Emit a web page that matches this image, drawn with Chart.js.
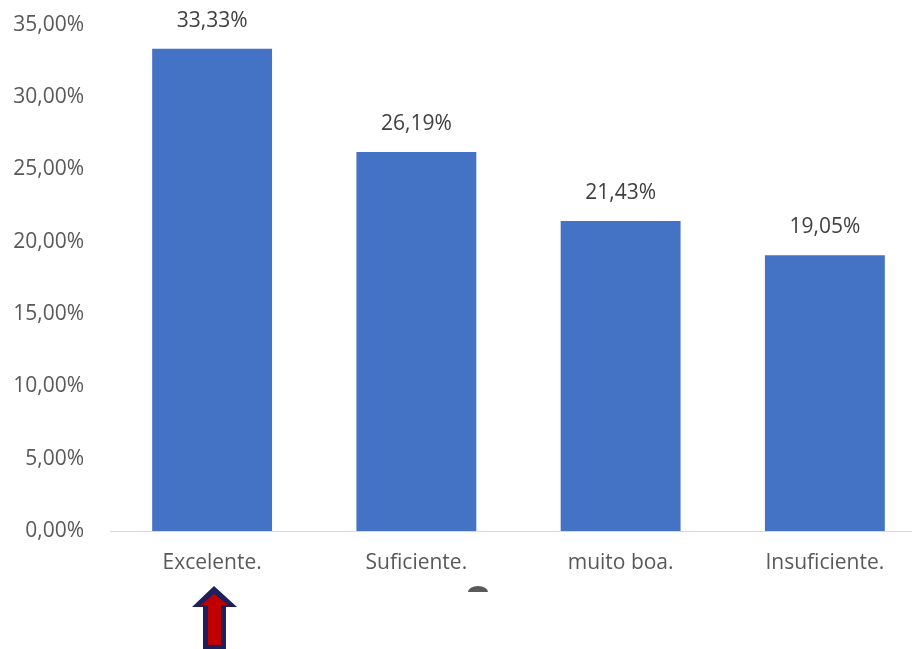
<!DOCTYPE html>
<html>
<head>
<meta charset="utf-8">
<script src="https://cdn.jsdelivr.net/npm/chart.js@4/dist/chart.umd.min.js"></script>
<style>
  html, body { margin: 0; padding: 0; background: #fff; overflow: hidden; width: 912px; height: 649px; }
  #wrap { position: absolute; left: 0; top: -14px; width: 930px; height: 595px; }
  #marks { position: absolute; left: 0; top: 0; }
</style>
</head>
<body>
<div id="wrap"><canvas id="chart"></canvas></div>
<svg id="marks" width="912" height="649">
  <ellipse cx="478" cy="592" rx="10" ry="6" fill="#595959"/>
  <rect x="440" y="592" width="80" height="20" fill="#fff"/>
  <polygon points="214,586 192,607 203,607 203,649 226,649 226,607 237,607" fill="#1f1f5c"/>
  <polygon points="214,594 201,605 208,605 208,645 221,645 221,605 228,605" fill="#c00000"/>
</svg>
<script>
const categories = ["Excelente.", "Suficiente.", "muito boa.", "Insuficiente."];
const percentages = [33.33, 26.19, 21.43, 19.05];

const fmt = v => Number(v).toFixed(2).replace('.', ',') + '%';
const fontFamily = "'Open Sans', sans-serif";

const valueLabels = {
  id: 'valueLabels',
  afterDatasetsDraw(chart) {
    const ctx = chart.ctx;
    ctx.save();
    ctx.font = '21px ' + fontFamily;
    ctx.fillStyle = '#404040';
    ctx.textAlign = 'center';
    ctx.textBaseline = 'middle';
    chart.getDatasetMeta(0).data.forEach((bar, i) => {
      ctx.fillText(fmt(percentages[i]), bar.x, bar.y - 28);
    });
    ctx.restore();
  }
};

new Chart(document.getElementById('chart'), {
  type: 'bar',
  data: {
    labels: categories,
    datasets: [{
      data: percentages,
      backgroundColor: '#4472C4',
      barPercentage: 0.587,
      categoryPercentage: 1
    }]
  },
  options: {
    responsive: true,
    maintainAspectRatio: false,
    animation: false,
    layout: { padding: { top: 2, right: 3, left: 0, bottom: 0 } },
    plugins: {
      legend: { display: false },
      tooltip: { enabled: false }
    },
    scales: {
      x: {
        grid: { display: false, drawTicks: false },
        border: { display: true, color: '#d9d9d9', width: 1 },
        ticks: { color: '#595959', font: { size: 21, family: fontFamily }, padding: 19 },
        afterFit(scale) { scale.height = 50; }
      },
      y: {
        min: 0,
        max: 35,
        grid: { display: false, drawTicks: false },
        border: { display: false },
        ticks: {
          stepSize: 5,
          color: '#595959',
          font: { size: 21, family: fontFamily },
          padding: 26,
          callback: v => fmt(v)
        },
        afterFit(scale) { scale.width = 110; }
      }
    }
  },
  plugins: [valueLabels]
});
</script>
</body>
</html>
